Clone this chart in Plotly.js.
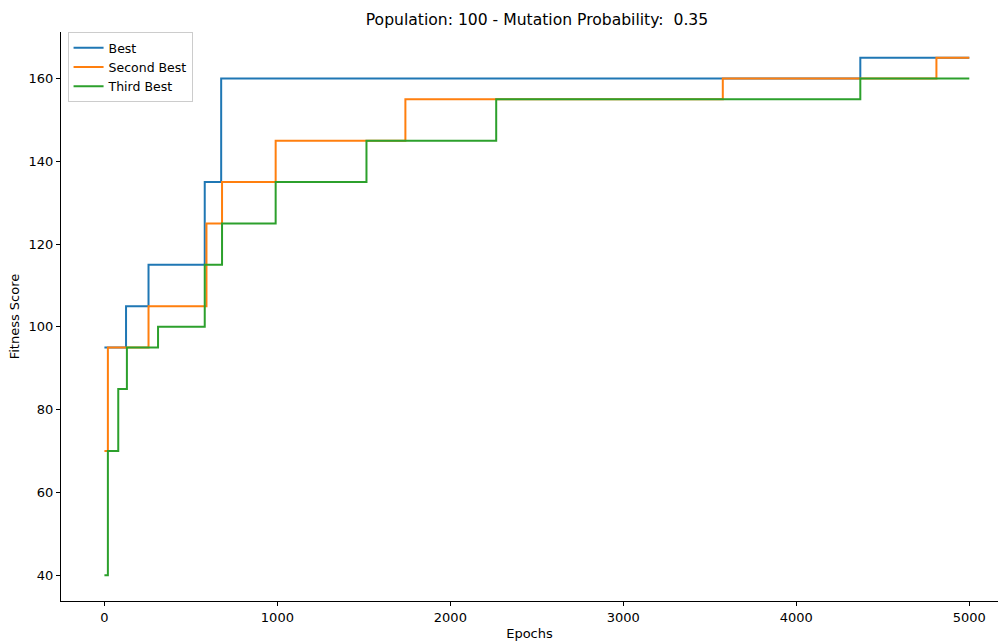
<!DOCTYPE html>
<html>
<head>
<meta charset="utf-8">
<script src="https://cdn.plot.ly/plotly-3.0.1.min.js"></script>
<style>
  html, body { margin: 0; padding: 0; background: #fff; }
  #chart { width: 998px; height: 641px; }
</style>
</head>
<body>
<div id="chart"></div>
<script>
// Epochs at which each of the top three individuals improved, and the fitness reached.
const bestEpochs   = [0, 125, 255, 580, 675, 4370, 5000];
const bestScores   = [95, 105, 115, 135, 160, 165, 165];

const secondEpochs = [0, 20, 255, 590, 680, 990, 1740, 3575, 4810, 5000];
const secondScores = [70, 95, 105, 125, 135, 145, 155, 160, 165, 165];

const thirdEpochs  = [0, 20, 80, 130, 310, 580, 680, 990, 1515, 2265, 4370, 5000];
const thirdScores  = [40, 70, 85, 95, 100, 115, 125, 135, 145, 155, 160, 160];

const seriesNames  = ['Best', 'Second Best', 'Third Best'];
const seriesColors = ['#1f77b4', '#ff7f0e', '#2ca02c'];

const FONT = 'DejaVu Sans, Liberation Sans, sans-serif';

const series = [
  [bestEpochs, bestScores],
  [secondEpochs, secondScores],
  [thirdEpochs, thirdScores]
];

const traces = series.map(([x, y], i) => ({
  x: x,
  y: y,
  name: seriesNames[i],
  type: 'scatter',
  mode: 'lines',
  line: { shape: 'hv', color: seriesColors[i], width: 2 }
}));

const layout = {
  width: 998,
  height: 641,
  margin: { l: 61, r: 0, t: 32, b: 39.5, pad: 0 },
  paper_bgcolor: '#ffffff',
  plot_bgcolor: '#ffffff',
  font: { family: FONT, size: 13, color: '#000' },
  title: {
    text: 'Population: 100 - Mutation Probability: \u00a00.35',
    font: { family: FONT, size: 15.6, color: '#000' },
    xref: 'paper', x: 0.508, xanchor: 'center',
    yref: 'container', y: 0.97, yanchor: 'middle'
  },
  showlegend: true,
  legend: {
    x: 0.007, y: 1.0, xanchor: 'left', yanchor: 'top',
    bgcolor: 'rgba(255,255,255,0.8)',
    bordercolor: '#cccccc', borderwidth: 1,
    font: { family: FONT, size: 12.5, color: '#000' },
    tracegroupgap: 0
  },
  xaxis: {
    range: [-251, 5166],
    tickvals: [0, 1000, 2000, 3000, 4000, 5000],
    ticks: 'outside', ticklen: 4, tickwidth: 1, tickcolor: '#000',
    tickfont: { family: FONT, size: 13, color: '#000' },
    showline: true, linecolor: '#000', linewidth: 1, mirror: false,
    showgrid: false, zeroline: false,
    title: { text: 'Epochs', font: { family: FONT, size: 13, color: '#000' }, standoff: 5 }
  },
  yaxis: {
    range: [33.75, 171.25],
    tickvals: [40, 60, 80, 100, 120, 140, 160],
    ticks: 'outside', ticklen: 4, tickwidth: 1, tickcolor: '#000',
    tickfont: { family: FONT, size: 13, color: '#000' },
    showline: true, linecolor: '#000', linewidth: 1, mirror: false,
    showgrid: false, zeroline: false,
    title: { text: 'Fitness Score', font: { family: FONT, size: 13, color: '#000' }, standoff: 6 }
  }
};

Plotly.newPlot('chart', traces, layout, { displayModeBar: false, staticPlot: true });
</script>
</body>
</html>
